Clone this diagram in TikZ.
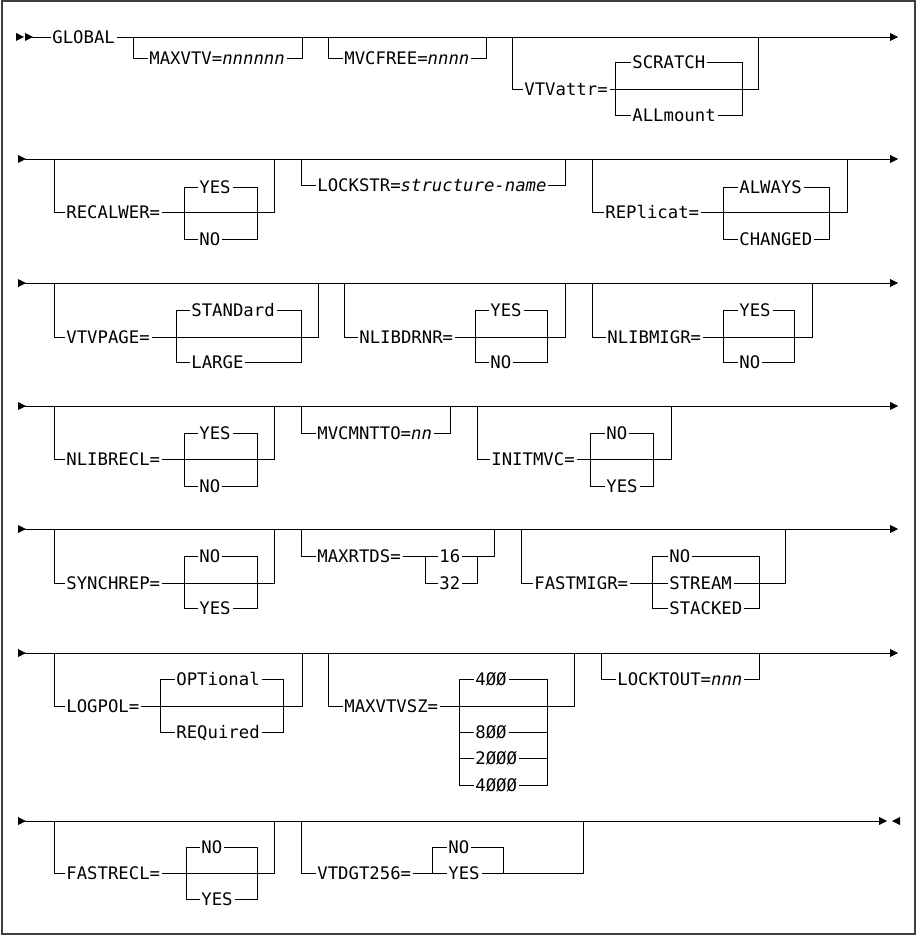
\documentclass[tikz,border=0pt]{standalone}
\usepackage{fontspec}
\setmainfont{DejaVu Sans Mono}[ItalicFont={DejaVu Sans Mono Oblique}]
\usetikzlibrary{arrows.meta}
\begin{document}
\begin{tikzpicture}[x=1pt, y=-1pt, line width=0.8pt,
  lbl/.style={anchor=west, inner xsep=1.5pt, inner ysep=0pt, text height=12.6pt,
    text depth=0pt, font=\fontsize{17.3}{20}\selectfont},
  railend/.style={-{Triangle[length=8pt,width=8pt]}}]
  \useasboundingbox (0,0) rectangle (919,936);
  \draw[black!75, line width=1.2pt] (2,1) rectangle (915,934);
  \foreach \y in {159,283,406,529,653} \draw[railend] (25,\y) -- (898,\y);
  \foreach \y in {159,283,406,529,653,821} \fill (18,\y-4) -- (26,\y) -- (18,\y+4) -- cycle;

  \fill (16,33) -- (24,37) -- (16,41) -- cycle;
  \fill (25,33) -- (33,37) -- (25,41) -- cycle;
  \node[lbl] (global) at (50.5,37) {GLOBAL};
  \draw (32,37) -- (global.west);
  \draw[railend] (global.east) -- (898,37);
  \node[lbl] (maxvtv) at (147.5,58) {MAXVTV=\textit{nnnnnn}};
  \draw (133,37) |- (maxvtv.west);
  \draw (maxvtv.east) -| (302,37);
  \node[lbl] (mvcfree) at (342.5,58) {MVCFREE=\textit{nnnn}};
  \draw (328,37) |- (mvcfree.west);
  \draw (mvcfree.east) -| (486,37);
  \node[lbl] (vtvattr) at (522.5,89) {VTVattr=};
  \node[lbl] (scratch) at (630.5,62) {SCRATCH};
  \node[lbl] (allmount) at (630.5,115) {ALLmount};
  \draw (512,37) |- (vtvattr.west);
  \draw (vtvattr.east) -| (758,37);
  \draw (scratch.west) -| (615,115) -- (allmount.west);
  \draw (scratch.east) -| (742,115) -- (allmount.east);

  \node[lbl] (recalwer) at (64.5,212) {RECALWER=};
  \node[lbl] (recyes) at (197.5,187) {YES};
  \node[lbl] (recno) at (197.5,239) {NO};
  \draw (54,159) |- (recalwer.west);
  \draw (recalwer.east) -| (274,159);
  \draw (recyes.west) -| (184,239) -- (recno.west);
  \draw (recyes.east) -| (257,239) -- (recno.east);
  \node[lbl] (lockstr) at (315.5,185) {LOCKSTR=\textit{structure-name}};
  \draw (301,159) |- (lockstr.west);
  \draw (lockstr.east) -| (565,159);
  \node[lbl] (replicat) at (603.5,212) {REPlicat=};
  \node[lbl] (always) at (737.5,187) {ALWAYS};
  \node[lbl] (changed) at (737.5,239) {CHANGED};
  \draw (592,159) |- (replicat.west);
  \draw (replicat.east) -| (847,159);
  \draw (always.west) -| (723,239) -- (changed.west);
  \draw (always.east) -| (829,239) -- (changed.east);

  \node[lbl] (vtvpage) at (64.5,337) {VTVPAGE=};
  \node[lbl] (standard) at (189.5,310) {STANDard};
  \node[lbl] (large) at (189.5,362) {LARGE};
  \draw (54,283) |- (vtvpage.west);
  \draw (vtvpage.east) -| (318,283);
  \draw (standard.west) -| (176,362) -- (large.west);
  \draw (standard.east) -| (301,362) -- (large.east);
  \node[lbl] (nlibdrnr) at (357.5,337) {NLIBDRNR=};
  \node[lbl] (drnryes) at (488.5,310) {YES};
  \node[lbl] (drnrno) at (488.5,362) {NO};
  \draw (344,283) |- (nlibdrnr.west);
  \draw (nlibdrnr.east) -| (565,283);
  \draw (drnryes.west) -| (475,362) -- (drnrno.west);
  \draw (drnryes.east) -| (547,362) -- (drnrno.east);
  \node[lbl] (nlibmigr) at (605.5,337) {NLIBMIGR=};
  \node[lbl] (migryes) at (737.5,310) {YES};
  \node[lbl] (migrno) at (737.5,362) {NO};
  \draw (592,283) |- (nlibmigr.west);
  \draw (nlibmigr.east) -| (812,283);
  \draw (migryes.west) -| (723,362) -- (migrno.west);
  \draw (migryes.east) -| (794,362) -- (migrno.east);

  \node[lbl] (nlibrecl) at (64.5,459) {NLIBRECL=};
  \node[lbl] (reclyes) at (197.5,433) {YES};
  \node[lbl] (reclno) at (197.5,486) {NO};
  \draw (54,406) |- (nlibrecl.west);
  \draw (nlibrecl.east) -| (274,406);
  \draw (reclyes.west) -| (184,486) -- (reclno.west);
  \draw (reclyes.east) -| (257,486) -- (reclno.east);
  \node[lbl] (mvcmntto) at (315.5,433) {MVCMNTTO=\textit{nn}};
  \draw (301,406) |- (mvcmntto.west);
  \draw (mvcmntto.east) -| (450,406);
  \node[lbl] (initmvc) at (489.5,459) {INITMVC=};
  \node[lbl] (initno) at (604.5,433) {NO};
  \node[lbl] (inityes) at (604.5,486) {YES};
  \draw (477,406) |- (initmvc.west);
  \draw (initmvc.east) -| (671,406);
  \draw (initno.west) -| (590,486) -- (inityes.west);
  \draw (initno.east) -| (653,486) -- (inityes.east);

  \node[lbl] (synchrep) at (64.5,583) {SYNCHREP=};
  \node[lbl] (synchno) at (197.5,556) {NO};
  \node[lbl] (synchyes) at (197.5,608) {YES};
  \draw (54,529) |- (synchrep.west);
  \draw (synchrep.east) -| (274,529);
  \draw (synchno.west) -| (184,608) -- (synchyes.west);
  \draw (synchno.east) -| (257,608) -- (synchyes.east);
  \node[lbl] (maxrtds) at (315.5,556) {MAXRTDS=};
  \node[lbl] (rtds16) at (437.5,556) {16};
  \node[lbl] (rtds32) at (437.5,583) {32};
  \draw (301,529) |- (maxrtds.west);
  \draw (maxrtds.east) -- (rtds16.west);
  \draw (rtds16.east) -| (494,529);
  \draw (425,556) |- (rtds32.west);
  \draw (rtds32.east) -| (477,556);
  \node[lbl] (fastmigr) at (532.5,583) {FASTMIGR=};
  \node[lbl] (migrno2) at (667.5,556) {NO};
  \node[lbl] (stream) at (667.5,583) {STREAM};
  \node[lbl] (stacked) at (667.5,608) {STACKED};
  \draw (521,529) |- (fastmigr.west);
  \draw (fastmigr.east) -- (stream.west);
  \draw (stream.east) -| (785,529);
  \draw (migrno2.west) -| (652,608) -- (stacked.west);
  \draw (migrno2.east) -| (759,608) -- (stacked.east);

  \node[lbl] (logpol) at (64.5,706) {LOGPOL=};
  \node[lbl] (optional) at (174.5,679) {OPTional};
  \node[lbl] (required) at (174.5,732) {REQuired};
  \draw (54,653) |- (logpol.west);
  \draw (logpol.east) -| (302,653);
  \draw (optional.west) -| (160,732) -- (required.west);
  \draw (optional.east) -| (283,732) -- (required.east);
  \node[lbl] (maxvtvsz) at (342.5,706) {MAXVTVSZ=};
  \node[lbl] (sz400) at (473.5,679) {4ØØ};
  \node[lbl] (sz800) at (473.5,732) {8ØØ};
  \node[lbl] (sz2000) at (473.5,758) {2ØØØ};
  \node[lbl] (sz4000) at (473.5,785) {4ØØØ};
  \draw (328,653) |- (maxvtvsz.west);
  \draw (maxvtvsz.east) -| (574,653);
  \draw (sz400.west) -| (459,785) -- (sz4000.west);
  \draw (sz400.east) -| (547,785) -- (sz4000.east);
  \draw (459,732) -- (sz800.west);
  \draw (459,758) -- (sz2000.west);
  \draw (sz800.east) -- (547,732);
  \draw (sz2000.east) -- (547,758);
  \node[lbl] (locktout) at (615.5,679) {LOCKTOUT=\textit{nnn}};
  \draw (601,653) |- (locktout.west);
  \draw (locktout.east) -| (759,653);

  \draw[railend] (25,821) -- (887,821);
  \fill (900,817) -- (892,821) -- (900,825) -- cycle;
  \node[lbl] (fastrecl) at (64.5,873) {FASTRECL=};
  \node[lbl] (fastno) at (199.5,847) {NO};
  \node[lbl] (fastyes) at (199.5,899) {YES};
  \draw (54,821) |- (fastrecl.west);
  \draw (fastrecl.east) -| (274,821);
  \draw (fastno.west) -| (186,899) -- (fastyes.west);
  \draw (fastno.east) -| (257,899) -- (fastyes.east);
  \node[lbl] (vtdgt) at (315.5,873) {VTDGT256=};
  \node[lbl] (dgtno) at (446.5,847) {NO};
  \node[lbl] (dgtyes) at (446.5,873) {YES};
  \draw (301,821) |- (vtdgt.west);
  \draw (vtdgt.east) -- (dgtyes.west);
  \draw (dgtyes.east) -| (583,821);
  \draw (432,873) |- (dgtno.west);
  \draw (dgtno.east) -| (503,873);
\end{tikzpicture}
\end{document}
